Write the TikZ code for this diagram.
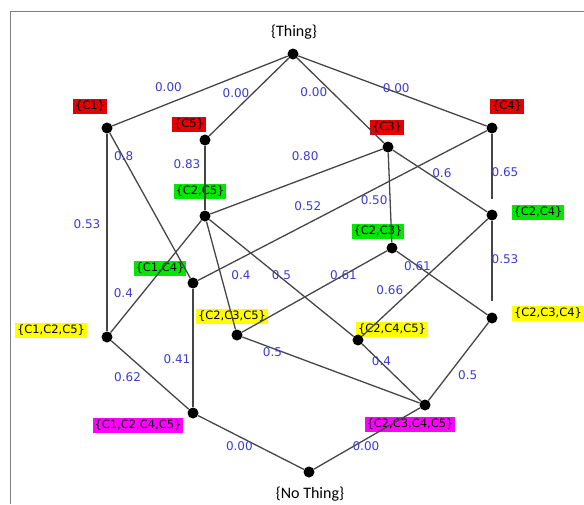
\documentclass[tikz,border=0pt]{standalone}
\usepackage{fontspec}
\setmainfont{DejaVu Sans}
\newfontfamily\thingfont{Carlito}
\definecolor{tagred}{RGB}{228,0,0}
\definecolor{taggreen}{RGB}{0,232,0}
\definecolor{tagyellow}{RGB}{255,255,0}
\definecolor{tagpink}{RGB}{255,0,255}
\definecolor{wblue}{RGB}{60,60,210}
\definecolor{linkgray}{RGB}{70,70,70}
\begin{document}
\begin{tikzpicture}[x=1pt, y=-1pt,
  dot/.style={circle, fill=black, inner sep=0pt, minimum size=11pt},
  tag/.style={inner xsep=2pt, inner ysep=1pt, minimum height=15pt, font=\fontsize{11.5}{12}\selectfont},
  redtag/.style={tag, fill=tagred},
  greentag/.style={tag, fill=taggreen},
  yellowtag/.style={tag, fill=tagyellow},
  pinktag/.style={tag, fill=tagpink},
  ends/.style={font=\thingfont\fontsize{16}{16}\selectfont},
  w/.style={text=wblue, inner sep=1pt, font=\fontsize{12}{12}\selectfont},
  link/.style={linkgray, line width=1.3pt}]
\useasboundingbox (0,0) rectangle (584,504);
\draw[gray, line width=0.8pt] (584,11) -- (10,11) -- (10,504);

% tags
\node[redtag] (c1t) at (90,106) {\{C1\}};
\node[redtag] (c5t) at (189,124) {\{C5\}};
\node[redtag] (c3t) at (387,127) {\{C3\}};
\node[redtag] (c4t) at (507,106) {\{C4\}};
\node[greentag] (c25t) at (200,191) {\{C2,C5\}};
\node[greentag] (c24t) at (538,212) {\{C2,C4\}};
\node[greentag] (c23t) at (378,231) {\{C2,C3\}};
\node[greentag] (c14t) at (160,268) {\{C1,C4\}};
\node[yellowtag] (c125t) at (51,330) {\{C1,C2,C5\}};
\node[yellowtag] (c235t) at (232,316) {\{C2,C3,C5\}};
\node[yellowtag] (c245t) at (392,329) {\{C2,C4,C5\}};
\node[yellowtag] (c234t) at (548,313) {\{C2,C3,C4\}};
\node[pinktag] (c1245t) at (138,425) {\{C1,C2,C4,C5\}};
\node[pinktag] (c2345t) at (410,424) {\{C2,C3,C4,C5\}};
\node[ends] (thingt) at (294,32) {\{Thing\}};
\node[ends] (nothingt) at (310,494) {\{No Thing\}};

% dots
\node[dot] (thing) at (293,54) {};
\node[dot] (c1) at (107,128) {};
\node[dot] (c5) at (205,140) {};
\node[dot] (c3) at (388,147) {};
\node[dot] (c4) at (492,128) {};
\node[dot] (c25) at (205,216) {};
\node[dot] (c24) at (492,215) {};
\node[dot] (c23) at (392,248) {};
\node[dot] (c14) at (193,283) {};
\node[dot] (c125) at (107,337) {};
\node[dot] (c235) at (237,335) {};
\node[dot] (c245) at (358,340) {};
\node[dot] (c234) at (492,318) {};
\node[dot] (c1245) at (193,413) {};
\node[dot] (c2345) at (425,405) {};
\node[dot] (nothing) at (309,472) {};

% links
\draw[link] (thing) -- (c1) node[w, pos=.68, yshift=16pt] {0.00};
\draw[link] (thing) -- (c5) node[w, pos=.45, xshift=-17pt] {0.00};
\draw[link] (thing) -- (c3) node[w, pos=.40, xshift=-18pt] {0.00};
\draw[link] (thing) -- (c4) node[w, pos=.52, yshift=4pt] {0.00};
\draw[link] (c1) -- (c125) node[w, pos=.46, xshift=-20pt] {0.53};
\draw[link] (c1) -- (c14) node[w, pos=.16, xshift=1pt] {0.8};
\draw[link] (c5) -- (c25) node[w, pos=.29, xshift=-18pt] {0.83};
\draw[link] (c25) -- (c3) node[w, pos=.55, yshift=22pt] {0.80};
\draw[link] (c4) -- (c14) node[w, pos=.62, yshift=17pt] {0.52};
\draw[link] (c3) -- (c23) node[w, pos=.53, xshift=-16pt] {0.50};
\draw[link] (c3) -- (c24) node[w, pos=.52, yshift=9pt] {0.6};
\draw[link, shorten >=10pt] (c4) -- (c24) node[w, pos=.51, xshift=13pt] {0.65};
\draw[link] (c25) -- (c125) node[w, pos=.65, xshift=-19pt] {0.4};
\draw[link] (c25) -- (c235) node[w, pos=.50, xshift=20pt] {0.4};
\draw[link] (c25) -- (c245) node[w, pos=.50, yshift=3pt] {0.5};
\draw[link] (c23) -- (c235) node[w, pos=.30] {0.61};
\draw[link] (c23) -- (c234) node[w, pos=.23] {0.61};
\draw[link] (c24) -- (c245) node[w, pos=.78, yshift=20pt] {0.66};
\draw[link, shorten >=11pt] (c24) -- (c234) node[w, pos=.42, xshift=13pt] {0.53};
\draw[link] (c14) -- (c1245) node[w, pos=.59, xshift=-16pt] {0.41};
\draw[link] (c125) -- (c1245) node[w, pos=.21, yshift=-22pt] {0.62};
\draw[link] (c235) -- (c2345) node[w, pos=.17, yshift=-4pt] {0.5};
\draw[link] (c245) -- (c2345) node[w, pos=.33, yshift=2pt] {0.4};
\draw[link] (c234) -- (c2345) node[w, pos=.68, xshift=20pt] {0.5};
\draw[link] (c1245) -- (nothing) node[w, pos=.39, yshift=-10pt] {0.00};
\draw[link] (c2345) -- (nothing) node[w, pos=.51, yshift=-7pt] {0.00};
\end{tikzpicture}
\end{document}
